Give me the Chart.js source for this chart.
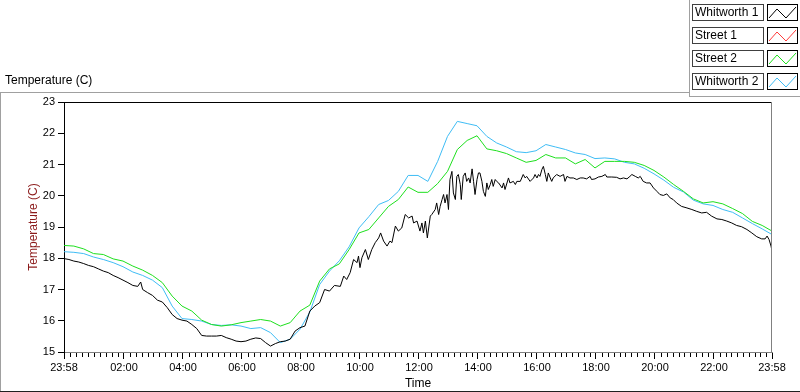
<!DOCTYPE html>
<html>
<head>
<meta charset="utf-8">
<script src="https://cdn.jsdelivr.net/npm/chart.js@4.4.1/dist/chart.umd.min.js"></script>
<style>
  html, body { margin: 0; padding: 0; background: #fff; }
  #wrap { width: 800px; height: 392px; }
</style>
</head>
<body>
<div id="wrap"><canvas id="tempChart" width="800" height="392"></canvas></div>
<script>
// series names as in the legend
const seriesNames = ["Whitworth 1", "Street 1", "Street 2", "Whitworth 2"];

// time axis labels (first and last are the same clock time, 24 h apart)
const xTickLabels = ["23:58", "02:00", "04:00", "06:00", "08:00", "10:00", "12:00",
  "14:00", "16:00", "18:00", "20:00", "22:00", "23:58"];

// minutes after 23:58 for Whitworth 1 (noisy, read at irregular points)
const w1Times = [
  0, 10, 20, 30, 40, 50, 60, 70, 80, 90,
  100, 110, 120, 130, 140, 150, 156, 160, 170, 180,
  190, 200, 210, 220, 230, 240, 250, 260, 270, 280,
  290, 300, 310, 320, 330, 340, 350, 360, 370, 380,
  390, 400, 410, 420, 430, 440, 450, 460, 470, 480,
  490, 500, 510, 520, 530, 540, 550,
  562, 569, 575, 582, 589, 596, 599, 602, 606, 613,
  619, 626, 633, 640, 644, 650, 657, 663, 667, 674,
  680, 687, 694, 701, 708, 711, 718, 724, 728, 731,
  735, 739, 745, 748, 755, 758, 762, 765, 769, 772,
  775, 779, 782, 785, 789, 792, 796, 799, 802, 806,
  808, 812, 816, 819, 823, 826, 830, 833, 836, 840,
  843, 846, 850, 853, 857, 860, 863, 867, 870, 873,
  877, 880, 884, 891, 894, 897, 904, 907, 914, 918,
  921, 928, 934, 938, 941, 948, 955, 958, 962, 965,
  968, 972, 975, 979, 982, 985, 989, 992, 995, 1002,
  1009, 1016, 1019, 1023, 1029, 1036, 1043, 1050, 1056, 1063,
  1070, 1073, 1080, 1087, 1094, 1101, 1104, 1114, 1124, 1131,
  1138, 1145, 1151, 1155, 1162, 1168, 1172, 1178, 1185, 1192,
  1199, 1206, 1212, 1219, 1226, 1233, 1239, 1246, 1256, 1267,
  1277, 1287, 1297, 1307, 1317, 1328, 1338, 1348, 1358, 1368,
  1378, 1389, 1399, 1409, 1419, 1426, 1430, 1434, 1438, 1440
];
const w1Temps = [
  17.99, 17.96, 17.91, 17.88, 17.83, 17.77, 17.73, 17.66, 17.59, 17.54,
  17.45, 17.38, 17.30, 17.22, 17.13, 17.10, 17.24, 17.00, 16.90, 16.81,
  16.66, 16.60, 16.42, 16.20, 16.07, 16.02, 15.99, 15.88, 15.75, 15.53,
  15.51, 15.51, 15.51, 15.53, 15.46, 15.41, 15.35, 15.33, 15.35, 15.41,
  15.45, 15.43, 15.30, 15.19, 15.27, 15.33, 15.35, 15.41, 15.67, 15.78,
  15.83, 16.31, 16.47, 16.58, 17.00, 16.95, 17.13,
  17.10, 17.43, 17.32, 17.54, 17.96, 17.86, 18.07, 17.70, 18.02, 18.28,
  17.96, 18.28, 18.50, 18.65, 18.81, 18.55, 18.39, 18.55, 18.50, 19.03,
  18.87, 18.97, 19.40, 19.29, 19.35, 19.13, 19.19, 18.87, 19.13, 18.81,
  19.19, 18.65, 19.35, 19.40, 19.56, 19.77, 19.40, 19.66, 19.88, 20.04,
  19.77, 20.04, 19.56, 20.52, 20.78, 20.09, 19.88, 20.62, 20.68, 20.36,
  19.88, 20.62, 20.73, 20.46, 20.57, 20.41, 20.86, 20.46, 20.04, 20.52,
  20.73, 20.73, 20.46, 20.14, 19.98, 20.41, 20.20, 20.36, 20.52, 20.30,
  20.52, 20.46, 20.41, 20.25, 20.41, 20.20, 20.57, 20.41, 20.46, 20.36,
  20.46, 20.46, 20.68, 20.57, 20.62, 20.46, 20.57, 20.68, 20.57, 20.68,
  20.62, 20.84, 20.94, 20.68, 20.46, 20.73, 20.57, 20.46, 20.57, 20.68,
  20.62, 20.68, 20.46, 20.62, 20.57, 20.57, 20.52, 20.57, 20.57, 20.54,
  20.62, 20.52, 20.54, 20.60, 20.62, 20.68, 20.60, 20.60, 20.59, 20.54,
  20.57, 20.54, 20.62, 20.68, 20.62, 20.57, 20.62, 20.46, 20.41, 20.41,
  20.25, 20.14, 20.04, 20.01, 20.06, 19.93, 19.88, 19.77, 19.66, 19.61,
  19.56, 19.50, 19.45, 19.47, 19.35, 19.26, 19.24, 19.19, 19.13, 19.05,
  19.01, 18.92, 18.81, 18.69, 18.62, 18.62, 18.71, 18.60, 18.39, 18.23
];

// Street 1 shows nothing on the plot
const s1Times = [];
const s1Temps = [];

// minutes after 23:58, every 20 minutes, for Street 2 and Whitworth 2
const gridTimes = [
  0, 20, 40, 60, 80, 100, 120, 140, 160, 180,
  200, 220, 240, 260, 280, 300, 320, 340, 360, 380,
  400, 420, 440, 460, 480, 500, 520, 540, 560, 580,
  600, 620, 640, 660, 680, 700, 720, 740, 760, 780,
  800, 820, 840, 860, 880, 900, 920, 940, 960, 980,
  1000, 1020, 1040, 1060, 1080, 1100, 1120, 1140, 1160, 1180,
  1200, 1220, 1240, 1260, 1280, 1300, 1320, 1340, 1360, 1380,
  1400, 1420, 1440
];
const s2Temps = [
  18.41, 18.39, 18.30, 18.15, 18.12, 17.98, 17.91, 17.75, 17.62, 17.45,
  17.22, 16.79, 16.47, 16.31, 16.02, 15.88, 15.83, 15.87, 15.94, 15.99,
  16.04, 15.99, 15.83, 15.94, 16.31, 16.50, 17.27, 17.66, 17.82, 18.28,
  18.81, 18.92, 19.29, 19.66, 19.88, 20.28, 20.11, 20.11, 20.39, 20.78,
  21.48, 21.77, 21.92, 21.50, 21.44, 21.35, 21.21, 21.07, 21.13, 21.32,
  21.21, 21.21, 21.02, 21.16, 20.89, 21.10, 21.10, 21.10, 21.07, 20.97,
  20.81, 20.60, 20.36, 20.14, 19.90, 19.77, 19.81, 19.74, 19.59, 19.43,
  19.18, 19.05, 18.87
];
const w2Temps = [
  18.21, 18.19, 18.15, 18.04, 17.96, 17.86, 17.73, 17.56, 17.45, 17.30,
  17.06, 16.47, 16.07, 16.04, 15.99, 15.88, 15.85, 15.87, 15.83, 15.75,
  15.78, 15.62, 15.30, 15.41, 15.73, 16.28, 17.16, 17.59, 17.92, 18.37,
  18.97, 19.33, 19.72, 19.85, 20.14, 20.65, 20.65, 20.46, 21.10, 21.90,
  22.38, 22.31, 22.24, 21.90, 21.69, 21.56, 21.41, 21.38, 21.44, 21.64,
  21.56, 21.48, 21.37, 21.32, 21.19, 21.21, 21.18, 21.07, 21.02, 20.88,
  20.70, 20.50, 20.27, 20.12, 19.86, 19.74, 19.69, 19.56, 19.47, 19.29,
  19.11, 18.94, 18.76
];

const seriesColors = ["#000000", "#ff3b3b", "#1ee01e", "#3fbdf5"];
const FONT = '"Liberation Sans", Arial, sans-serif';

// "HH:MM" -> minutes after the first label
const startMin = 23 * 60 + 58;
const xTickValues = xTickLabels.map((lab, i) => {
  const [h, m] = lab.split(":").map(Number);
  let v = (h * 60 + m - startMin + 1440) % 1440;
  if (i > 0 && v === 0) v = 1440;
  return v;
});

function toPoints(times, temps) {
  return times.map((t, i) => ({ x: t, y: temps[i] }));
}

function hline(ctx, x1, x2, y, color) {
  ctx.strokeStyle = color;
  ctx.beginPath();
  ctx.moveTo(x1, y);
  ctx.lineTo(x2, y);
  ctx.stroke();
}
function vline(ctx, x, y1, y2, color) {
  ctx.strokeStyle = color;
  ctx.beginPath();
  ctx.moveTo(x, y1);
  ctx.lineTo(x, y2);
  ctx.stroke();
}

// frame, minor ticks, top label and the boxed legend
const framePlugin = {
  id: "frame",
  beforeDraw(chart) {
    const ctx = chart.ctx;
    ctx.save();
    ctx.fillStyle = "#fff";
    ctx.fillRect(0, 0, chart.width, chart.height);
    ctx.restore();
  },
  afterDraw(chart) {
    const ctx = chart.ctx;
    const a = chart.chartArea;
    const xs = chart.scales.x;
    ctx.save();
    ctx.lineWidth = 1;

    // outer panel
    hline(ctx, 0, 690, 92.5, "#a0a0a0");
    vline(ctx, 0.5, 92, 392, "#a0a0a0");
    hline(ctx, 0, 800, 391.5, "#202020");
    vline(ctx, 689.5, 0, 97, "#a0a0a0");
    hline(ctx, 690, 800, 96.5, "#a0a0a0");

    // plot box: top dark, right gray
    hline(ctx, a.left, a.right, Math.round(a.top) + 0.5, "#000");
    vline(ctx, Math.round(a.right) - 0.5, a.top, a.bottom + 1, "#808080");

    // minor ticks on the time axis, 10 per major step
    for (let i = 0; i < xTickValues.length - 1; i++) {
      const v0 = xTickValues[i], v1 = xTickValues[i + 1];
      for (let k = 1; k < 10; k++) {
        const px = Math.round(xs.getPixelForValue(v0 + (v1 - v0) * k / 10)) + 0.5;
        vline(ctx, px, a.bottom + 1, a.bottom + 5, "#000");
      }
    }

    // label above the plot
    ctx.fillStyle = "#000";
    ctx.font = "12px " + FONT;
    ctx.textBaseline = "middle";
    ctx.textAlign = "left";
    ctx.fillText("Temperature (C)", 5, 81);

    // legend
    seriesNames.forEach((name, i) => {
      const y0 = 4 + i * 23;
      ctx.fillStyle = "#fff";
      ctx.fillRect(692, y0, 72, 17);
      ctx.fillRect(767, y0, 31, 17);
      ctx.strokeStyle = "#404040";
      ctx.strokeRect(692.5, y0 + 0.5, 71, 16);
      ctx.strokeStyle = "#000";
      ctx.strokeRect(767.5, y0 + 0.5, 30, 16);
      ctx.fillStyle = "#000";
      ctx.fillText(name, 695, y0 + 9);
      ctx.strokeStyle = seriesColors[i];
      ctx.beginPath();
      ctx.moveTo(769, y0 + 14);
      ctx.lineTo(777, y0 + 5);
      ctx.lineTo(786, y0 + 14);
      ctx.lineTo(796, y0 + 3);
      ctx.stroke();
    });
    ctx.restore();
  },
};

const allSeries = [
  toPoints(w1Times, w1Temps),
  toPoints(s1Times, s1Temps),
  toPoints(gridTimes, s2Temps),
  toPoints(gridTimes, w2Temps),
];

new Chart(document.getElementById("tempChart"), {
  type: "line",
  data: {
    datasets: seriesNames.map((name, i) => ({
      label: name,
      data: allSeries[i],
      borderColor: seriesColors[i],
      backgroundColor: seriesColors[i],
      borderWidth: 1,
      pointRadius: 0,
      tension: 0,
      fill: false,
    })),
  },
  options: {
    responsive: false,
    animation: false,
    devicePixelRatio: 1,
    layout: { padding: { left: 0, top: 102, right: 28, bottom: 0 } },
    plugins: {
      legend: { display: false },
      tooltip: { enabled: false },
    },
    scales: {
      x: {
        type: "linear",
        min: 0,
        max: 1440,
        afterBuildTicks: (scale) => {
          scale.ticks = xTickValues.map((v) => ({ value: v }));
        },
        afterFit: (scale) => {
          scale.height = 40;
          scale.paddingLeft = 0;
          scale.paddingRight = 0;
        },
        ticks: {
          autoSkip: false,
          maxRotation: 0,
          padding: 2,
          color: "#000",
          font: { family: FONT, size: 11 },
          callback: (v) => {
            const i = xTickValues.indexOf(v);
            return i >= 0 ? xTickLabels[i] : "";
          },
        },
        grid: { drawOnChartArea: false, color: "#000", tickLength: 7 },
        border: { color: "#808080" },
        title: {
          display: true,
          text: "Time",
          color: "#000",
          font: { family: FONT, size: 12 },
          padding: { top: 0, bottom: 1 },
        },
      },
      y: {
        min: 15,
        max: 23,
        afterFit: (scale) => {
          scale.width = 64;
          scale.paddingTop = 0;
          scale.paddingBottom = 0;
        },
        ticks: {
          stepSize: 1,
          padding: 3,
          color: "#000",
          font: { family: FONT, size: 11 },
        },
        grid: { drawOnChartArea: false, color: "#000", tickLength: 6 },
        border: { color: "#000" },
        title: {
          display: true,
          text: "Temperature (C)",
          color: "#8b1a1a",
          font: { family: FONT, size: 12 },
          padding: { top: 26, bottom: 0 },
        },
      },
    },
  },
  plugins: [framePlugin],
});
</script>
</body>
</html>
